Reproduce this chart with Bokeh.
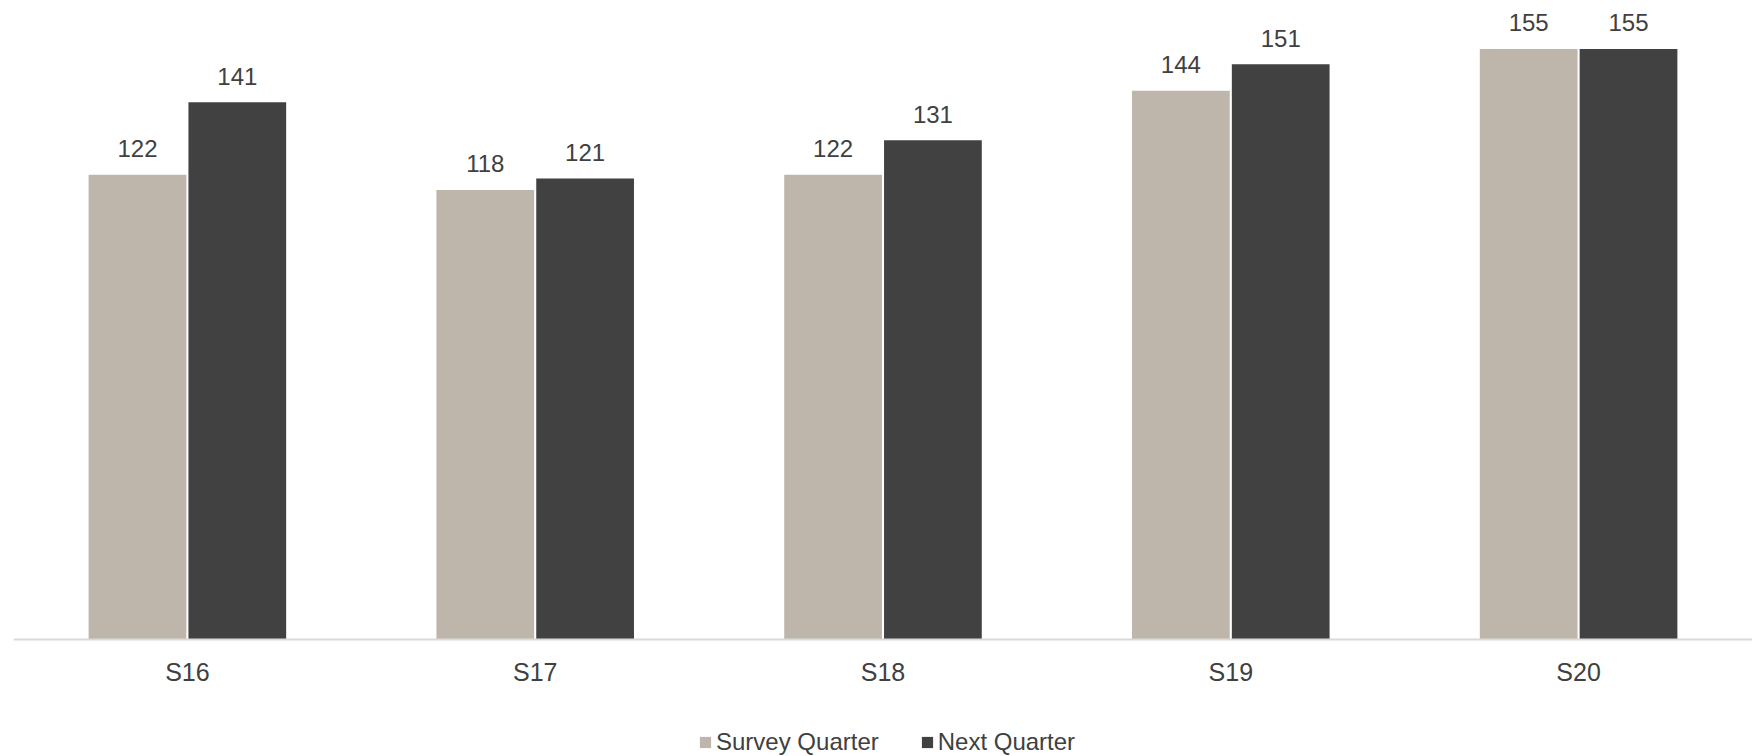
from bokeh.plotting import figure
from bokeh.models import (ColumnDataSource, FactorRange, Range1d, LabelSet, Legend,
                          LegendItem, Span)
from bokeh.core.properties import value
from bokeh.transform import dodge
from bokeh.embed import file_html
from bokeh.resources import INLINE

# Survey waves and the two series per wave
categories = ["S16", "S17", "S18", "S19", "S20"]
survey_quarter = [122, 118, 122, 144, 155]
next_quarter = [141, 121, 131, 151, 155]

FONT = "Liberation Sans"
TEXT = "#404040"
SURVEY_COLOR = "#BEB6AA"
NEXT_COLOR = "#414141"

source = ColumnDataSource(dict(
    cat=categories,
    base=[0] * len(categories),
    survey=survey_quarter,
    nextq=next_quarter,
    survey_lbl=[str(v) for v in survey_quarter],
    nextq_lbl=[str(v) for v in next_quarter],
))

# The frame fills the canvas; the category labels and legend sit below zero.
p = figure(
    width=1752, height=756,
    x_range=FactorRange(*categories, range_padding=0),
    y_range=Range1d(-30.7, 167.7),
    output_backend="svg", toolbar_location=None,
    x_axis_location=None, y_axis_location=None,
    min_border_left=13, min_border_right=0,
    min_border_top=0, min_border_bottom=0,
)
p.outline_line_color = None
p.xgrid.grid_line_color = None
p.ygrid.grid_line_color = None
p.background_fill_color = "white"
p.border_fill_color = "white"

OFF = 0.1435
W = 0.281

r_survey = p.vbar(x=dodge("cat", -OFF, range=p.x_range), top="survey", width=W,
                  source=source, fill_color=SURVEY_COLOR, line_color=None)
r_next = p.vbar(x=dodge("cat", OFF, range=p.x_range), top="nextq", width=W,
                source=source, fill_color=NEXT_COLOR, line_color=None)

# category baseline
p.add_layout(Span(location=0, dimension="width", line_color="#D9D9D9", line_width=2))

# value labels above each bar
for col, off in (("survey", -OFF), ("nextq", OFF)):
    labels = LabelSet(x=dodge("cat", off, range=p.x_range), y=col, text=col + "_lbl",
                      source=source, text_align="center", text_baseline="middle",
                      y_offset=26, text_font=value(FONT), text_font_size=value("24px"),
                      text_color=TEXT)
    p.add_layout(labels)

# category names under the baseline
cat_labels = LabelSet(x="cat", y="base", text="cat", source=source,
                      text_align="center", text_baseline="middle", y_offset=-32,
                      text_font=value(FONT), text_font_size=value("25px"),
                      text_color=TEXT)
p.add_layout(cat_labels)

legend = Legend(
    items=[LegendItem(label="Survey Quarter", renderers=[r_survey]),
           LegendItem(label="Next Quarter", renderers=[r_next])],
    orientation="horizontal",
    location=(685, 0),
    glyph_width=14, glyph_height=14, label_standoff=4, spacing=41,
    padding=0, margin=0,
    border_line_color=None, background_fill_alpha=0,
    label_text_font=FONT, label_text_font_size="24px", label_text_color=TEXT,
)
p.add_layout(legend, "center")

open("out.html", "w").write(file_html(p, INLINE))
